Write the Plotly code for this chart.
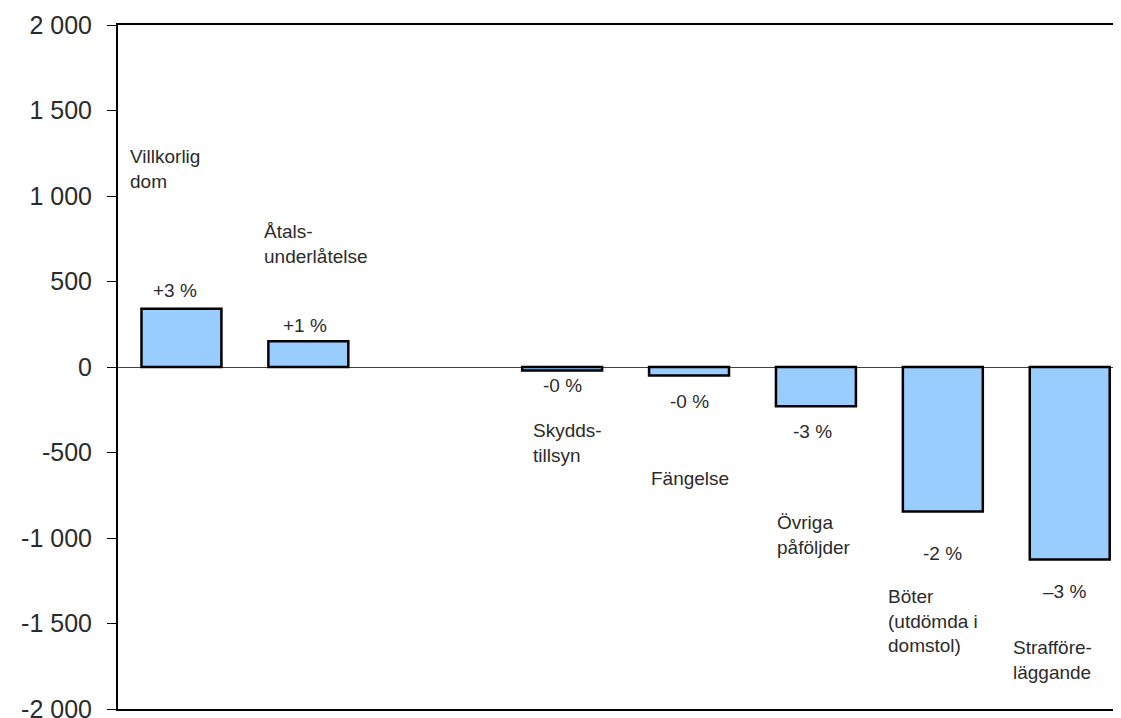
import plotly.graph_objects as go

# ---- data ----
categories = ["Villkorlig<br>dom", "Åtals-<br>underlåtelse", "", "Skydds-<br>tillsyn",
              "Fängelse", "Övriga<br>påföljder", "Böter<br>(utdömda i<br>domstol)",
              "Strafföre-<br>läggande"]
changes = [340, 150, None, -20, -50, -230, -845, -1125]
pct_labels = ["+3 %", "+1 %", "", "-0 %", "-0 %", "-3 %", "-2 %", "–3 %"]
y_tickvals = [-2000, -1500, -1000, -500, 0, 500, 1000, 1500, 2000]
y_ticktext = ["-2 000", "-1 500", "-1 000", "-500", "0", "500", "1 000", "1 500", "2 000"]

# ---- label placement (layout only, data units) ----
pct_pos = [(-0.05, 450), (0.97, 240), None, (3.0, -111), (4.0, -199),
           (4.97, -380), (6.0, -1088), (6.955, -1311)]
name_pos = [(-0.42, 1156), (0.635, 717), None, (2.755, -445), (3.683, -650),
            (4.678, -980), (5.553, -1486), (6.535, -1712)]

FONT = "Liberation Sans, Arial, sans-serif"
TXT = "#2b2b2b"
xs = list(range(len(categories)))

fig = go.Figure()
fig.add_trace(go.Bar(
    x=xs, y=changes,
    marker=dict(color="#99CCFF", line=dict(color="black", width=2.5)),
    width=0.63, hoverinfo="skip", showlegend=False, cliponaxis=True,
))

annotations = []
for i, cat in enumerate(categories):
    if pct_pos[i] is not None:
        annotations.append(dict(x=pct_pos[i][0], y=pct_pos[i][1], xref="x", yref="y",
                                text=pct_labels[i], showarrow=False, xanchor="center",
                                yanchor="middle", font=dict(family=FONT, size=19, color=TXT)))
    if name_pos[i] is not None:
        annotations.append(dict(x=name_pos[i][0], y=name_pos[i][1], xref="x", yref="y",
                                text=cat, showarrow=False, xanchor="left", align="left",
                                yanchor="middle", font=dict(family=FONT, size=19, color=TXT)))

# page body has an 8px margin, so the figure is sized/offset to land on the reference grid
fig.update_layout(
    width=1113, height=710,
    margin=dict(l=110, r=0, t=17, b=9, autoexpand=False),
    paper_bgcolor="white", plot_bgcolor="white",
    annotations=annotations,
    font=dict(family=FONT, color="black"),
    xaxis=dict(range=[-0.5, 7.404], showticklabels=False, ticks="", showgrid=False,
               zeroline=False, showline=True, linecolor="black", linewidth=2, mirror=True,
               fixedrange=True, automargin=False),
    yaxis=dict(range=[-2000, 2000], tickvals=y_tickvals, ticktext=y_ticktext,
               ticks="outside", ticklen=9, tickwidth=1, tickcolor="black",
               ticklabelstandoff=10, automargin=False, ticklabeloverflow="allow",
               tickfont=dict(family=FONT, size=25, color=TXT),
               showgrid=False, zeroline=True, zerolinecolor="#404040", zerolinewidth=1,
               showline=True, linecolor="black", linewidth=2, fixedrange=True),
)

fig.write_html("out.html")
